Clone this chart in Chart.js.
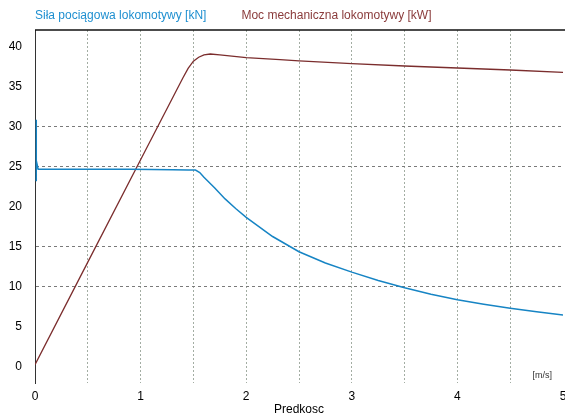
<!DOCTYPE html>
<html>
<head>
<meta charset="utf-8">
<script src="https://cdn.jsdelivr.net/npm/chart.js@4"></script>
<style>
html,body{margin:0;padding:0;background:#fff;}
#wrap{width:565px;height:415px;position:relative;}
</style>
</head>
<body>
<div id="wrap"><canvas id="c" width="565" height="415"></canvas></div>
<script>
// ---- data ----
const seriesNames = ['Siła pociągowa lokomotywy [kN]', 'Moc mechaniczna lokomotywy [kW]'];
const forceSpeed  = [0.012, 0.012, 0.012, 0.012, 0.02, 0.03, 0.5, 0.9, 1.3, 1.45, 1.52, 1.56, 1.6, 1.7, 1.8, 1.9, 2.0, 2.25, 2.5, 2.75, 3.0, 3.25, 3.5, 3.75, 4.0, 4.25, 4.5, 4.75, 5.0];
const forceValues = [24.7, 30.9, 23.2, 24.7, 25.3, 24.7, 24.7, 24.7, 24.65, 24.6, 24.6, 24.3, 23.7, 22.4, 21.0, 19.8, 18.7, 16.3, 14.4, 13.0, 11.85, 10.8, 9.9, 9.1, 8.4, 7.85, 7.35, 6.9, 6.5];
const powerSpeed  = [0, 0.5, 1.0, 1.4, 1.45, 1.5, 1.55, 1.6, 1.66, 1.75, 2.0, 2.32, 2.5, 3.0, 3.5, 4.0, 4.5, 5.0];
const powerValues = [0.3, 13.1, 25.9, 36.1, 37.3, 38.2, 38.7, 39.0, 39.1, 39.0, 38.65, 38.4, 38.25, 37.9, 37.6, 37.35, 37.1, 36.8];
const xTicks = [0, 0.5, 1, 1.5, 2, 2.5, 3, 3.5, 4, 4.5, 5];
const yTicks = [0, 5, 10, 15, 20, 25, 30, 35, 40];
const yGridValues = [10, 15, 25, 30];
const xTitle = 'Predkosc';
const xUnit = '[m/s]';

const blue = '#1684c4';
const brown = '#7b2d2d';
const legendColors = ['#1e8fd0', '#8a3b3b'];
const FONT = '"Liberation Sans", Arial, sans-serif';

const toPts = (xs, ys) => xs.map((x, i) => ({x: x, y: ys[i]}));

const framePlugin = {
  id: 'frame',
  afterDraw(chart) {
    const {ctx, chartArea} = chart;
    ctx.save();
    ctx.strokeStyle = '#111';
    ctx.lineWidth = 1.5;
    ctx.beginPath();
    ctx.moveTo(chartArea.left, chartArea.top);
    ctx.lineTo(chart.width, chartArea.top);
    ctx.stroke();
    ctx.font = '12px ' + FONT;
    ctx.textBaseline = 'middle';
    ctx.textAlign = 'left';
    let x = chartArea.left;
    seriesNames.forEach((name, i) => {
      ctx.fillStyle = legendColors[i];
      ctx.fillText(name, x, 16);
      x += ctx.measureText(name).width + 35;
    });
    ctx.font = '9px ' + FONT;
    ctx.fillStyle = '#333';
    ctx.textAlign = 'right';
    ctx.fillText(xUnit, chartArea.right - 11, chartArea.bottom - 7);
    ctx.restore();
  }
};

new Chart(document.getElementById('c'), {
  type: 'line',
  data: {
    datasets: [
      {label: seriesNames[0], data: toPts(forceSpeed, forceValues), borderColor: blue, borderWidth: 1.5, pointRadius: 0, tension: 0, fill: false},
      {label: seriesNames[1], data: toPts(powerSpeed, powerValues), borderColor: brown, borderWidth: 1.3, pointRadius: 0, tension: 0, fill: false}
    ]
  },
  options: {
    responsive: false,
    animation: false,
    layout: {padding: {top: 30, right: 2, left: 0, bottom: 0}},
    plugins: {legend: {display: false}, tooltip: {enabled: false}},
    scales: {
      x: {
        type: 'linear', min: 0, max: 5,
        afterBuildTicks: s => { s.ticks = xTicks.map(v => ({value: v})); },
        afterFit: s => { s.height = 32; s.paddingLeft = 0; s.paddingRight = 0; },
        ticks: {
          autoSkip: false, maxRotation: 0, padding: 6, color: '#000',
          font: {family: FONT, size: 12},
          callback: v => Number.isInteger(v) ? String(v) : ''
        },
        grid: {
          drawTicks: false, lineWidth: 1,
          color: ctx => (ctx.tick && (ctx.tick.value === 0 || ctx.tick.value === 5)) ? 'rgba(0,0,0,0)' : '#a3ada3'
        },
        border: {display: false, dash: [2, 2]},
        title: {display: true, text: xTitle, color: '#000', font: {family: FONT, size: 12}, padding: {top: 0, bottom: -2}}
      },
      y: {
        type: 'linear', min: -2, max: 42.1,
        afterBuildTicks: s => { s.ticks = yTicks.map(v => ({value: v})); },
        afterFit: s => { s.width = 35; },
        ticks: {padding: 13, color: '#000', font: {family: FONT, size: 12}},
        grid: {
          drawTicks: false, lineWidth: 1,
          color: ctx => (ctx.tick && yGridValues.includes(ctx.tick.value)) ? '#7a7a7a' : 'rgba(0,0,0,0)'
        },
        border: {display: true, color: '#333', width: 1, dash: [3, 3]}
      }
    }
  },
  plugins: [framePlugin]
});
</script>
</body>
</html>
